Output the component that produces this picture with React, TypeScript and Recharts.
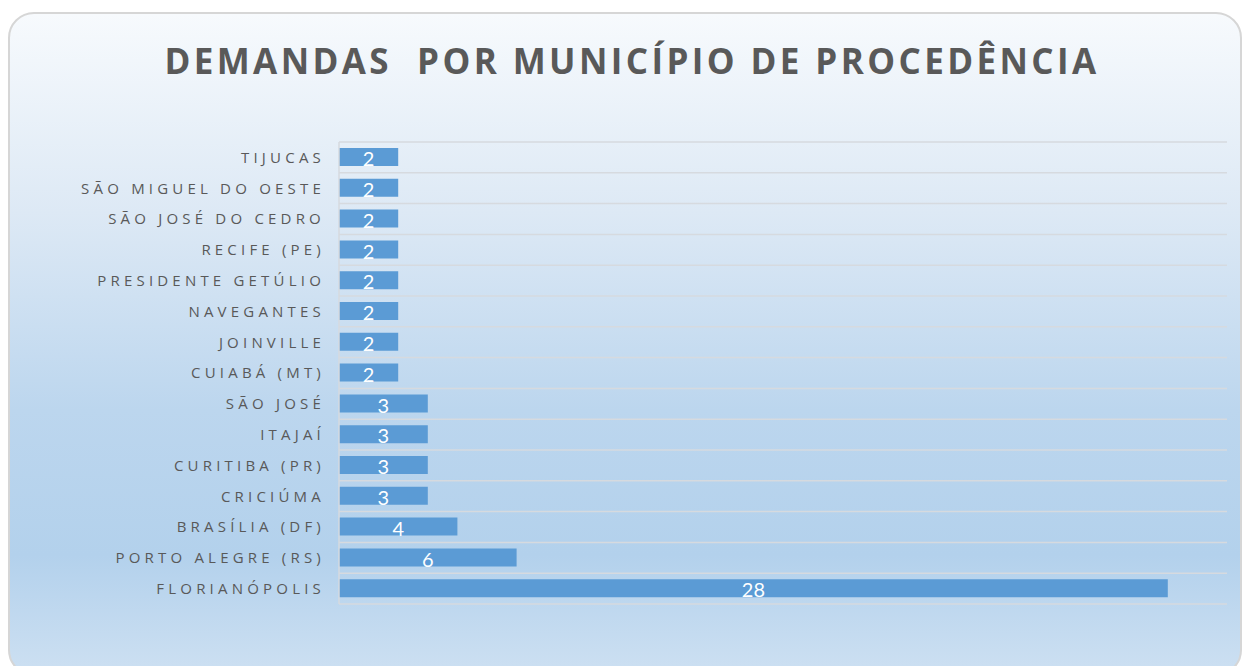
import { BarChart, Bar, XAxis, YAxis, CartesianGrid, LabelList } from "recharts";

const municipios = [
  "TIJUCAS",
  "SÃO MIGUEL DO OESTE",
  "SÃO JOSÉ DO CEDRO",
  "RECIFE (PE)",
  "PRESIDENTE GETÚLIO",
  "NAVEGANTES",
  "JOINVILLE",
  "CUIABÁ (MT)",
  "SÃO JOSÉ",
  "ITAJAÍ",
  "CURITIBA (PR)",
  "CRICIÚMA",
  "BRASÍLIA (DF)",
  "PORTO ALEGRE (RS)",
  "FLORIANÓPOLIS",
];

const demandas = [2, 2, 2, 2, 2, 2, 2, 2, 3, 3, 3, 3, 4, 6, 28];

const COLORS = {
  bar: "#5b9bd5",
  grid: "#d6dadf",
  label: "#595959",
  title: "#595959",
};

const data = municipios.map((name, i) => ({ name, value: demandas[i] }));

export default function App() {
  return (
    <div style={{ position: "absolute", left: 0, top: 0, width: 1245, height: 666, overflow: "hidden" }}>
      <div
        style={{
          position: "absolute",
          left: 8,
          top: 12,
          width: 1230,
          height: 660,
          borderRadius: 26,
          border: "2px solid #d6d6d6",
          background:
            "linear-gradient(to bottom, #f7fafd 0%, #dde9f5 30%, #bcd6ee 60%, #b3d1ec 82%, #cde0f2 100%)",
        }}
      />
      <div
        style={{
          position: "absolute",
          left: 0,
          top: 37,
          width: 1264,
          textAlign: "center",
          fontFamily: "'Open Sans', sans-serif",
          fontWeight: 700,
          fontSize: 35,
          letterSpacing: 3.4,
          color: COLORS.title,
          whiteSpace: "pre",
        }}
      >
        DEMANDAS  POR MUNICÍPIO DE PROCEDÊNCIA
      </div>
      <div style={{ position: "absolute", left: 0, top: 0 }}>
        <BarChart
          width={1245}
          height={666}
          data={data}
          layout="vertical"
          margin={{ top: 142, right: 18, bottom: 62, left: 0 }}
          barSize={18}
        >
          <CartesianGrid
            stroke={COLORS.grid}
            strokeWidth={1.5}
            vertical={false}
            horizontalCoordinatesGenerator={({ offset }: any) =>
              Array.from(
                { length: municipios.length + 1 },
                (_, i) => offset.top + (i * offset.height) / municipios.length
              )
            }
          />
          <XAxis type="number" domain={[0, 30]} hide />
          <YAxis
            type="category"
            dataKey="name"
            width={339}
            interval={0}
            tickLine={false}
            tickMargin={8}
            axisLine={{ stroke: COLORS.grid, strokeWidth: 1.5 }}
            tick={{
              fill: COLORS.label,
              fontSize: 15,
              fontFamily: "'Open Sans', sans-serif",
              letterSpacing: 4.2,
            }}
          />
          <Bar dataKey="value" fill={COLORS.bar} isAnimationActive={false}>
            <LabelList
              dataKey="value"
              position="center"
              fill="#ffffff"
              fontSize={20}
              fontWeight={400}
              dy={2}
              fontFamily="Lato, sans-serif"
            />
          </Bar>
        </BarChart>
      </div>
    </div>
  );
}
